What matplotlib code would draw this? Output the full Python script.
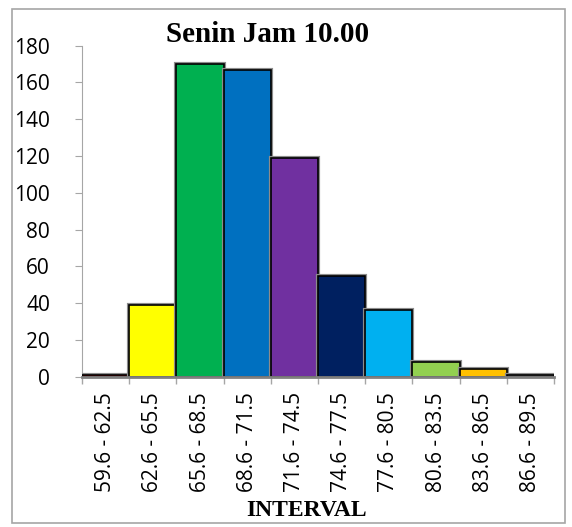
import matplotlib
matplotlib.use('Agg')
import matplotlib.pyplot as plt
import matplotlib.patheffects as pe
from matplotlib.patches import Rectangle

# data
intervals = ['59.6 - 62.5', '62.6 - 65.5', '65.6 - 68.5', '68.6 - 71.5', '71.6 - 74.5',
             '74.6 - 77.5', '77.6 - 80.5', '80.6 - 83.5', '83.6 - 86.5', '86.6 - 89.5']
counts = [1, 39, 170, 167, 119, 55, 36, 8, 4, 1]
colors = ['#C00000', '#FFFF00', '#00B050', '#0070C0', '#7030A0',
          '#002060', '#00B0F0', '#92D050', '#FFC000', '#7F7F7F']
yticks = [0, 20, 40, 60, 80, 100, 120, 140, 160, 180]

fig = plt.figure(figsize=(5.72, 5.27), dpi=100)
ax = fig.add_axes([82 / 572, 1 - 376.7 / 527, (554 - 82) / 572, (376.7 - 45.7) / 527])

pos = list(range(len(counts)))
bars = ax.bar(pos, counts, width=1.0, color=colors, edgecolor='black', linewidth=1.2, zorder=3)
for b in bars:
    b.set_path_effects([pe.Stroke(linewidth=3, foreground='#8C8C8C'), pe.Normal()])

ax.set_xlim(-0.5, len(counts) - 0.5)
ax.set_ylim(0, 180)
ax.set_yticks(yticks)
ax.set_yticklabels([str(v) for v in yticks], fontsize=15, family='Open Sans')
ax.tick_params(axis='y', length=5, color='#A6A6A6', pad=18)

# ticks between categories, labels at the centres
ax.set_xticks([p - 0.5 for p in pos] + [len(counts) - 0.5])
ax.set_xticklabels([])
ax.set_xticks(pos, minor=True)
ax.set_xticklabels(intervals, minor=True, rotation=90, fontsize=15, family='Open Sans', va='top')
ax.tick_params(axis='x', which='major', length=5, color='#A6A6A6', width=1)
ax.tick_params(axis='x', which='minor', length=0, pad=11)

for s in ['top', 'right']:
    ax.spines[s].set_visible(False)
ax.spines['left'].set_color('#A6A6A6')
ax.spines['bottom'].set_color('#808080')
ax.spines['bottom'].set_linewidth(2)
ax.spines['bottom'].set_zorder(4)

fig.text(268 / 572, 1 - 35 / 527, 'Senin Jam 10.00', ha='center', va='center',
         fontsize=21, fontweight='bold', family='Liberation Serif')
fig.text(307 / 572, 1 - 510 / 527, 'INTERVAL', ha='center', va='center',
         fontsize=17, fontweight='bold', family='Liberation Serif', zorder=6)

# outer chart frame
fig.patches.append(Rectangle((12 / 572, 1 - 523 / 527), (565 - 12) / 572, (523 - 9) / 527,
                             transform=fig.transFigure, fill=False, edgecolor='#A6A6A6',
                             linewidth=1.2, zorder=1))

fig.savefig('out.png', dpi=100)
